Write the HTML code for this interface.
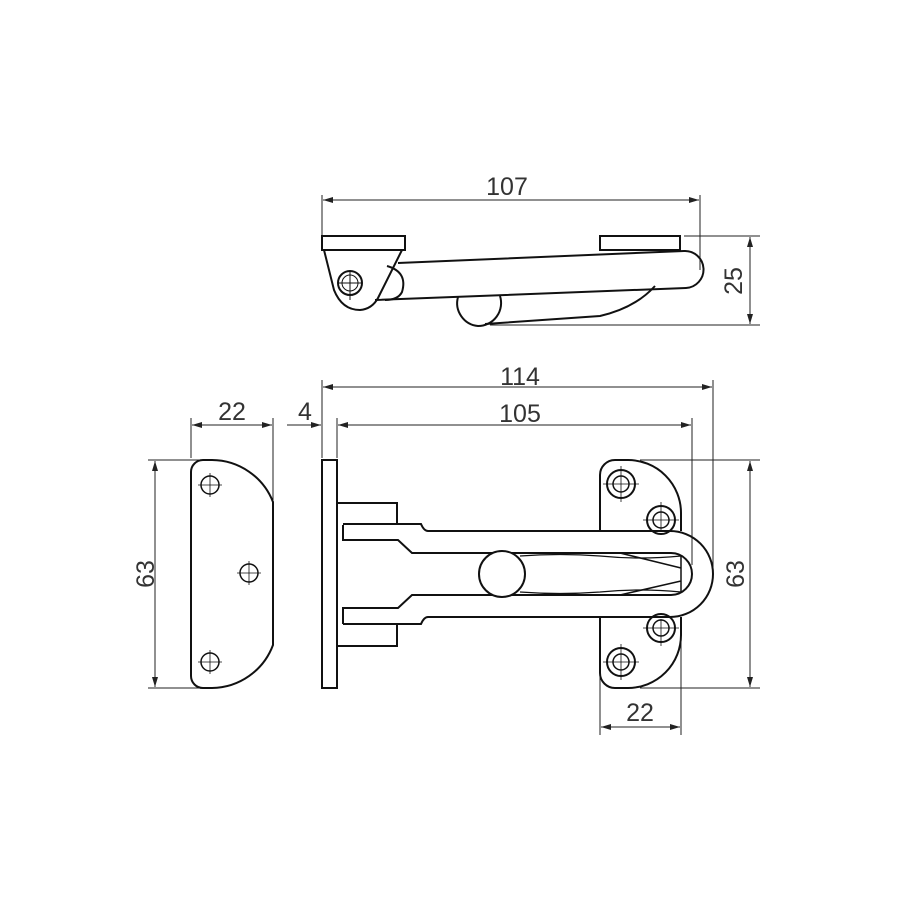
<!DOCTYPE html>
<html><head><meta charset="utf-8"><style>
html,body{margin:0;padding:0;background:#fff;}
svg{display:block}
text{font-family:"Liberation Sans",sans-serif;font-size:25px;fill:#333;text-anchor:middle}
</style></head><body>
<svg width="900" height="900" viewBox="0 0 900 900" xmlns="http://www.w3.org/2000/svg">
<defs>
<marker id="a" viewBox="0 0 10 6" refX="10" refY="3" markerWidth="10" markerHeight="6" orient="auto-start-reverse" markerUnits="userSpaceOnUse">
<path d="M0,0 L10,3 L0,6 z" fill="#222"/></marker>
</defs>
<g fill="none" stroke="#222" stroke-width="1">
<line x1="322" y1="195" x2="322" y2="236"/>
<line x1="700" y1="195" x2="700" y2="270"/>
<line x1="323" y1="200" x2="699" y2="200" marker-start="url(#a)" marker-end="url(#a)"/>
<line x1="684" y1="236" x2="760" y2="236"/>
<line x1="490" y1="325" x2="760" y2="325"/>
<line x1="750" y1="237" x2="750" y2="324" marker-start="url(#a)" marker-end="url(#a)"/>
<line x1="322" y1="380" x2="322" y2="458"/>
<line x1="713" y1="380" x2="713" y2="572"/>
<line x1="323" y1="387" x2="712" y2="387" marker-start="url(#a)" marker-end="url(#a)"/>
<line x1="337" y1="418" x2="337" y2="458"/>
<line x1="692" y1="418" x2="692" y2="565"/>
<line x1="338" y1="425" x2="691" y2="425" marker-start="url(#a)" marker-end="url(#a)"/>
<line x1="287" y1="425" x2="321" y2="425" marker-end="url(#a)"/>
<line x1="191" y1="418" x2="191" y2="458"/>
<line x1="273" y1="418" x2="273" y2="500"/>
<line x1="192" y1="425" x2="272" y2="425" marker-start="url(#a)" marker-end="url(#a)"/>
<line x1="148" y1="460" x2="212" y2="460"/>
<line x1="148" y1="688" x2="212" y2="688"/>
<line x1="155" y1="461" x2="155" y2="687" marker-start="url(#a)" marker-end="url(#a)"/>
<line x1="640" y1="460" x2="760" y2="460"/>
<line x1="640" y1="688" x2="760" y2="688"/>
<line x1="750" y1="461" x2="750" y2="687" marker-start="url(#a)" marker-end="url(#a)"/>
<line x1="600" y1="673" x2="600" y2="735"/>
<line x1="681" y1="628" x2="681" y2="735"/>
<line x1="601" y1="727" x2="680" y2="727" marker-start="url(#a)" marker-end="url(#a)"/>
</g>
<text x="507" y="195">107</text>
<text x="0" y="0" transform="translate(742,281) rotate(-90)">25</text>
<text x="520" y="385">114</text>
<text x="520" y="422">105</text>
<text x="305" y="420">4</text>
<text x="232" y="420">22</text>
<text x="0" y="0" transform="translate(154,574) rotate(-90)">63</text>
<text x="0" y="0" transform="translate(744,574) rotate(-90)">63</text>
<text x="640" y="721">22</text>

<g fill="none" stroke="#111" stroke-width="2">
<rect x="322" y="236" width="83" height="14"/>
<rect x="600" y="236" width="80" height="14"/>
<path d="M324,250 L334,290 Q342,310 360,310 Q372,309 378,298 L402,250"/>
<circle cx="350" cy="283" r="12"/>
<circle cx="350" cy="283" r="8" stroke-width="1"/>
<line x1="338" y1="283" x2="362" y2="283" stroke-width="1"/>
<line x1="350" y1="271" x2="350" y2="300" stroke-width="1"/>
<path d="M387,266 Q408,272 402,292 Q398,300 385,300"/>
<path d="M398,263 L684,251 A18,18 0 0 1 686,288 L375,300"/>
<path d="M458,297 A23,23 0 0 0 478,326 A23,23 0 0 0 500,296"/>
<path d="M485,324 L600,316 Q635,308 655,286"/>
<path d="M203,460 L212,460 A66,66 0 0 1 273,502 L273,645 A66,66 0 0 1 212,688 L203,688 A12,12 0 0 1 191,676 L191,472 A12,12 0 0 1 203,460 Z"/>
<rect x="322" y="460" width="15" height="228"/>
<path d="M337,503 L397,503 L397,523 M337,646 L397,646 L397,625"/>
<path d="M600,531 L600,475 A15,15 0 0 1 615,460 L628,460 A53,53 0 0 1 681,513 L681,531"/>
<path d="M600,617 L600,673 A15,15 0 0 0 615,688 L628,688 A53,53 0 0 0 681,635 L681,617"/>
<path d="M343,525 L343,540 L398,540 L412,553 L671,553 A21,21 0 0 1 671,595 L412,595 L398,608 L343,608 L343,624"/>
<path d="M343,524 L421,524 Q424,531 428,531 L670,531 A43,43 0 0 1 670,617 L428,617 Q424,617 421,624 L343,624"/>
<path d="M681,556 L681,592 M620,553 L681,568 M620,595 L681,581" stroke-width="1.5"/>
<path d="M520,556 Q560,553 600,556 Q640,560 681,556 M520,592 Q560,595 600,592 Q640,588 681,592" stroke-width="1.2"/>
<circle cx="502" cy="574" r="23" fill="#fff"/>
</g>
<g fill="none" stroke="#111">
<circle cx="210" cy="485" r="9" stroke-width="1.5"/>
<circle cx="249" cy="573" r="9" stroke-width="1.5"/>
<circle cx="210" cy="662" r="9" stroke-width="1.5"/>
<circle cx="621" cy="484" r="14" stroke-width="2"/><circle cx="621" cy="484" r="8" stroke-width="1.5"/>
<circle cx="661" cy="520" r="14" stroke-width="2"/><circle cx="661" cy="520" r="8" stroke-width="1.5"/>
<circle cx="661" cy="628" r="14" stroke-width="2"/><circle cx="661" cy="628" r="8" stroke-width="1.5"/>
<circle cx="621" cy="662" r="14" stroke-width="2"/><circle cx="621" cy="662" r="8" stroke-width="1.5"/>
<g stroke-width="0.8">
<path d="M198,485h24M210,473v24M237,573h24M249,561v24M198,662h24M210,650v24"/>
<path d="M603,484h36M621,466v36M643,520h36M661,502v28M643,628h36M661,619v27M603,662h36M621,644v36"/>
</g>
</g>
</svg>
</body></html>
